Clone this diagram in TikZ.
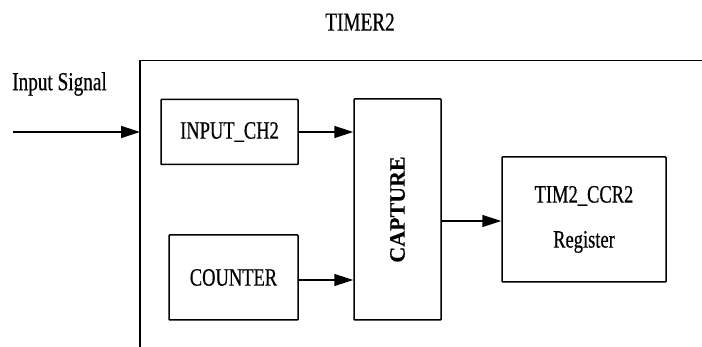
\documentclass[tikz,border=0pt]{standalone}
\usepackage{fontspec}
\setmainfont{Liberation Serif}[FakeStretch=0.74, FakeBold=0.5]
\newfontfamily\capfont{Liberation Serif}[FakeBold=0.3]
\usetikzlibrary{arrows.meta}
\tikzset{
  blk/.style={draw, line width=1.5pt, inner sep=0pt, rounded corners=0.8pt,
    font=\fontsize{25}{25}\selectfont},
  arr/.style={line width=1.5pt, -{Triangle[length=19pt,width=12pt]}},
  lbl/.style={inner sep=0pt, font=\fontsize{26}{26}\selectfont}
}
\begin{document}
\begin{tikzpicture}[x=1pt,y=-1pt]
\useasboundingbox (0,0) rectangle (702,347);
% title
\node[lbl] (title) at (360,22) {TIMER2};
% outer box (open to right and bottom)
\draw[line width=1.5pt] (140,347) -- (140,60.5) -- (702,60.5);
\coordinate (inleft) at (140,132);
\coordinate (insrc) at (13,132);
\node[lbl] (sig) at (59.5,84) {Input Signal};
% blocks
\node[blk, minimum width=137pt, minimum height=65pt] (inp) at (229.5,132) {INPUT\_CH2};
\node[blk, minimum width=129pt, minimum height=85pt] (cnt) at (233.5,277.5) {COUNTER};
\node[blk, minimum width=87pt, minimum height=221pt] (cap) at (397.5,209.5)
  {\rotatebox{90}{\capfont\fontsize{22}{22}\selectfont\bfseries CAPTURE}};
\node[blk, minimum width=164pt, minimum height=125pt, align=center,
  font=\fontsize{25}{45}\selectfont] (reg) at (584,219.5)
  {TIM2\_CCR2\\Register};
\coordinate (cntout) at ([yshift=-2.5pt]cnt.east);
\coordinate (regin) at ([yshift=-1.5pt]reg.west);
% connectors
\draw[arr] (insrc) -- (inleft);
\draw[arr] (inp.east) -- (cap.west |- inp.east);
\draw[arr] (cntout) -- (cap.west |- cntout);
\draw[arr] (cap.east |- regin) -- (regin);
\end{tikzpicture}
\end{document}
